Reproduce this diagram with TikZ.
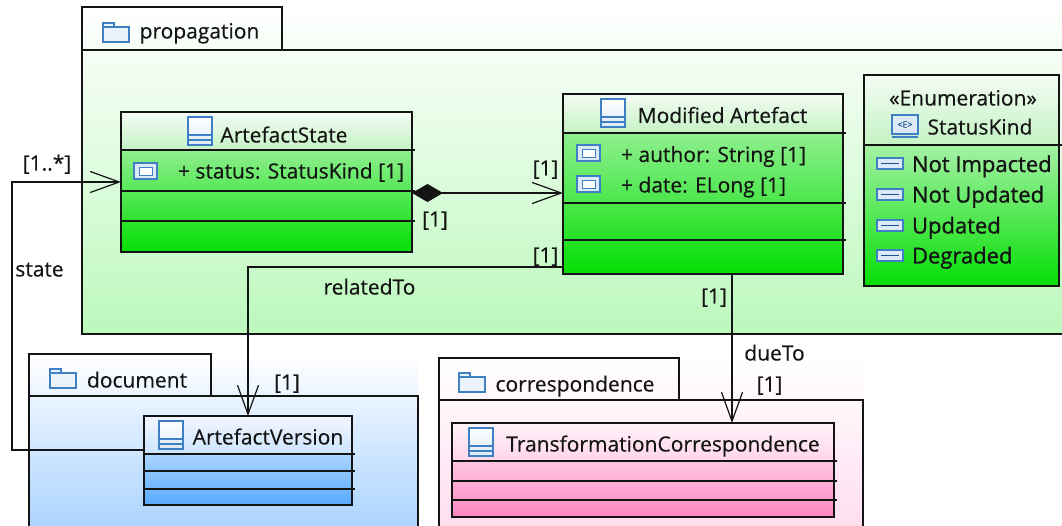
\documentclass[tikz,border=0pt]{standalone}
\usepackage{fontspec}
\setmainfont[FakeBold=0.4]{Open Sans}
\newfontfamily\litfont[FakeBold=1.1]{Open Sans}
\usetikzlibrary{arrows.meta,calc}
\definecolor{pkgG}{HTML}{BCF8BC}
\definecolor{pkgB}{HTML}{A9D2FF}
\definecolor{pkgP}{HTML}{FFDDEF}
\definecolor{gH1}{HTML}{F4FCF4}
\definecolor{gH2}{HTML}{C4F2C4}
\definecolor{gB1}{HTML}{8FEF8F}
\definecolor{gB2}{HTML}{04DE04}
\definecolor{bH1}{HTML}{F2F7FD}
\definecolor{bH2}{HTML}{CCE4FF}
\definecolor{bB1}{HTML}{AAD4FF}
\definecolor{bB2}{HTML}{58AAFF}
\definecolor{pH1}{HTML}{FFF4FA}
\definecolor{pH2}{HTML}{FFD4E8}
\definecolor{pB1}{HTML}{FFC6E2}
\definecolor{pB2}{HTML}{FF86C2}
\definecolor{iconB}{HTML}{3F7FC4}
\definecolor{iconF}{HTML}{DCEAF8}
\definecolor{iconD}{HTML}{1F4F8F}
\definecolor{ink}{HTML}{141414}
\tikzset{
  classicon/.pic={
    \draw[draw=iconB, line width=1.1pt, top color=white, bottom color=iconF] (0,0) rectangle (24,28);
    \draw[draw=iconB, line width=1.1pt] (0,18) -- (24,18) (0,23) -- (24,23);
  },
  foldericon/.pic={
    \draw[draw=iconB, line width=1.1pt, fill=iconF!60] (0,4) rectangle (26,19);
    \draw[draw=iconB, line width=1.1pt, fill=iconF!60] (0,0) rectangle (11,4);
  },
  attricon/.pic={
    \draw[draw=iconB, line width=1.1pt, fill=iconF] (0,0) rectangle (23,16);
    \draw[draw=iconB, line width=0.9pt, fill=white] (5,4) rectangle (18,12);
  },
  liticon/.pic={
    \draw[draw=iconB, line width=1.1pt, fill=iconF] (0,0) rectangle (26,11);
    \draw[draw=iconD, line width=1.6pt] (4,5.5) -- (22,5.5);
  },
  enumicon/.pic={
    \draw[draw=iconB, line width=1.1pt, fill=iconF] (0,0) rectangle (26,19);
    \draw[draw=iconB, line width=1.1pt] (0,22) -- (26,22);
    \node[font=\fontsize{9}{9}\selectfont, text=iconD, inner sep=0pt] (etag) at (13,9.5) {\textless E\textgreater};
  }
}
\begin{document}
\begin{tikzpicture}[x=1pt,y=-1pt,
  lbl/.style={font=\fontsize{21}{24}\selectfont, text=ink, text height=15pt, text depth=0pt, inner sep=0pt, outer sep=0pt},
  lit/.style={font=\litfont\fontsize{22}{24}\selectfont, text=ink, text height=16pt, text depth=0pt, inner sep=0pt, outer sep=0pt, anchor=west},
  pkgline/.style={draw=ink, line width=1.3pt},
  sepline/.style={draw=ink, line width=1.3pt},
  classbox/.style={draw=ink, line width=1.4pt, anchor=north west, inner sep=0pt, outer sep=0pt},
  conn/.style={draw=ink, line width=1.2pt},
  openend/.style={-{Straight Barb[length=29pt,width=21pt]}},
  compos/.style={{Diamond[length=31pt,width=18pt]}-{Straight Barb[length=29pt,width=21pt]}}
]
\useasboundingbox (0,0) rectangle (1062,526);
\fill[white] (0,0) rectangle (1062,526);

% ---------- packages ----------
\shade[top color=white, bottom color=pkgG] (82,7) rectangle (1070,334);
\draw[pkgline] (82,7) rectangle (282,50);
\draw[pkgline] (82,50) rectangle (1070,334);
\pic at (103,23) {foldericon};
\node[lbl] (tprop) at (199.5,31) {propagation};

\shade[top color=white, bottom color=pkgB] (29,354) rectangle (418,530);
\draw[pkgline] (29,354) rectangle (211,396);
\draw[pkgline] (29,396) rectangle (418,540);
\pic at (50,369) {foldericon};
\node[lbl] (tdoc) at (137,380) {document};

\shade[top color=white, bottom color=pkgP] (439,358) rectangle (863,530);
\draw[pkgline] (439,358) rectangle (679,400);
\draw[pkgline] (439,400) rectangle (863,540);
\pic at (459,373) {foldericon};
\node[lbl] (tcorr) at (575,384) {correspondence};

% ---------- ArtefactState ----------
\shade[top color=gH1, bottom color=gH2] (121,112) rectangle (412,150);
\shade[top color=gB1, bottom color=gB2] (121,150) rectangle (412,252);
\draw[sepline] (121,150) -- (415,150) (121,191) -- (415,191) (121,221) -- (415,221);
\node[classbox, minimum width=291pt, minimum height=140pt] (as) at (121,112) {};
\pic at (188,117) {classicon};
\node[lbl] (asname) at (284,135) {ArtefactState};
\pic at (134,163) {attricon};
\node[lbl] (asattr) at (291,171) {+ status: StatusKind [1]};

% ---------- Modified Artefact ----------
\shade[top color=gH1, bottom color=gH2] (563,94) rectangle (843,133);
\shade[top color=gB1, bottom color=gB2] (563,133) rectangle (843,274);
\draw[sepline] (563,133) -- (846,133) (563,203) -- (846,203) (563,240) -- (846,240);
\node[classbox, minimum width=280pt, minimum height=180pt] (ma) at (563,94) {};
\pic at (601,99) {classicon};
\node[lbl] (maname) at (722.5,115.5) {Modified Artefact};
\pic at (577,145) {attricon};
\node[lbl] (maattr1) at (713.5,154.5) {+ author: String [1]};
\pic at (577,176) {attricon};
\node[lbl] (maattr2) at (703.5,185) {+ date: ELong [1]};

% ---------- StatusKind ----------
\shade[top color=gH1, bottom color=gH2] (864,75) rectangle (1059,145);
\shade[top color=gB1!80!white, bottom color=gB2] (864,145) rectangle (1059,286);
\draw[sepline] (864,145) -- (1064,145);
\node[classbox, minimum width=195pt, minimum height=211pt] (sk) at (864,75) {};
\node[lbl] (skster) at (963,98) {«Enumeration»};
\pic at (892,115) {enumicon};
\node[lbl] (skname) at (980,127) {StatusKind};
\pic at (877,158) {liticon};
\node[lit] (lit1) at (912,164) {Not Impacted};
\pic at (877,189) {liticon};
\node[lit] (lit2) at (912,194.5) {Not Updated};
\pic at (877,220) {liticon};
\node[lit] (lit3) at (912,225.5) {Updated};
\pic at (877,250) {liticon};
\node[lit] (lit4) at (912,255.5) {Degraded};

% ---------- ArtefactVersion ----------
\shade[top color=bH1, bottom color=bH2] (144,416) rectangle (352,454);
\shade[top color=bB1, bottom color=bB2] (144,454) rectangle (352,505);
\draw[sepline] (144,454) -- (355,454) (144,471) -- (355,471) (144,489) -- (355,489);
\node[classbox, minimum width=208pt, minimum height=89pt] (av) at (144,416) {};
\pic at (159,421) {classicon};
\node[lbl] (avname) at (268,437) {ArtefactVersion};

% ---------- TransformationCorrespondence ----------
\shade[top color=pH1, bottom color=pH2] (452,423) rectangle (834,461);
\shade[top color=pB1, bottom color=pB2] (452,461) rectangle (834,517);
\draw[sepline] (452,461) -- (837,461) (452,481) -- (837,481) (452,500) -- (837,500);
\node[classbox, minimum width=382pt, minimum height=94pt] (tc) at (452,423) {};
\pic at (469,428) {classicon};
\node[lbl] (tcname) at (663,444) {TransformationCorrespondence};

% ---------- connectors ----------
\coordinate (avst) at ($(av.north west)+(0,34)$);
\coordinate (stbend) at (12,300);
\draw[conn, openend] (avst) -| (stbend) |- (as.west);
\node[lbl] (lstm) at (47,163) {[1..*]};
\node[lbl] (lstn) at (39.5,269) {state};

\coordinate (cps) at ($(as.north east)+(0,81)$);
\draw[conn, compos] (cps) -- (ma.west |- cps);
\node[lbl] (lcp1) at (545.5,168) {[1]};
\node[lbl] (lcp2) at (435,219) {[1]};

\coordinate (rts) at ($(ma.north west)+(0,173)$);
\draw[conn, openend] (rts) -| (av.north);
\node[lbl] (lrt1) at (545.5,255) {[1]};
\node[lbl] (lrtn) at (369.5,287) {relatedTo};
\node[lbl] (lrt2) at (287,382) {[1]};

\coordinate (dts) at ($(ma.south west)+(169,0)$);
\draw[conn, openend] (dts) -- (tc.north -| dts);
\node[lbl] (ldt1) at (714,296) {[1]};
\node[lbl] (ldtn) at (774.5,353) {dueTo};
\node[lbl] (ldt2) at (769.5,384) {[1]};
\end{tikzpicture}
\end{document}
